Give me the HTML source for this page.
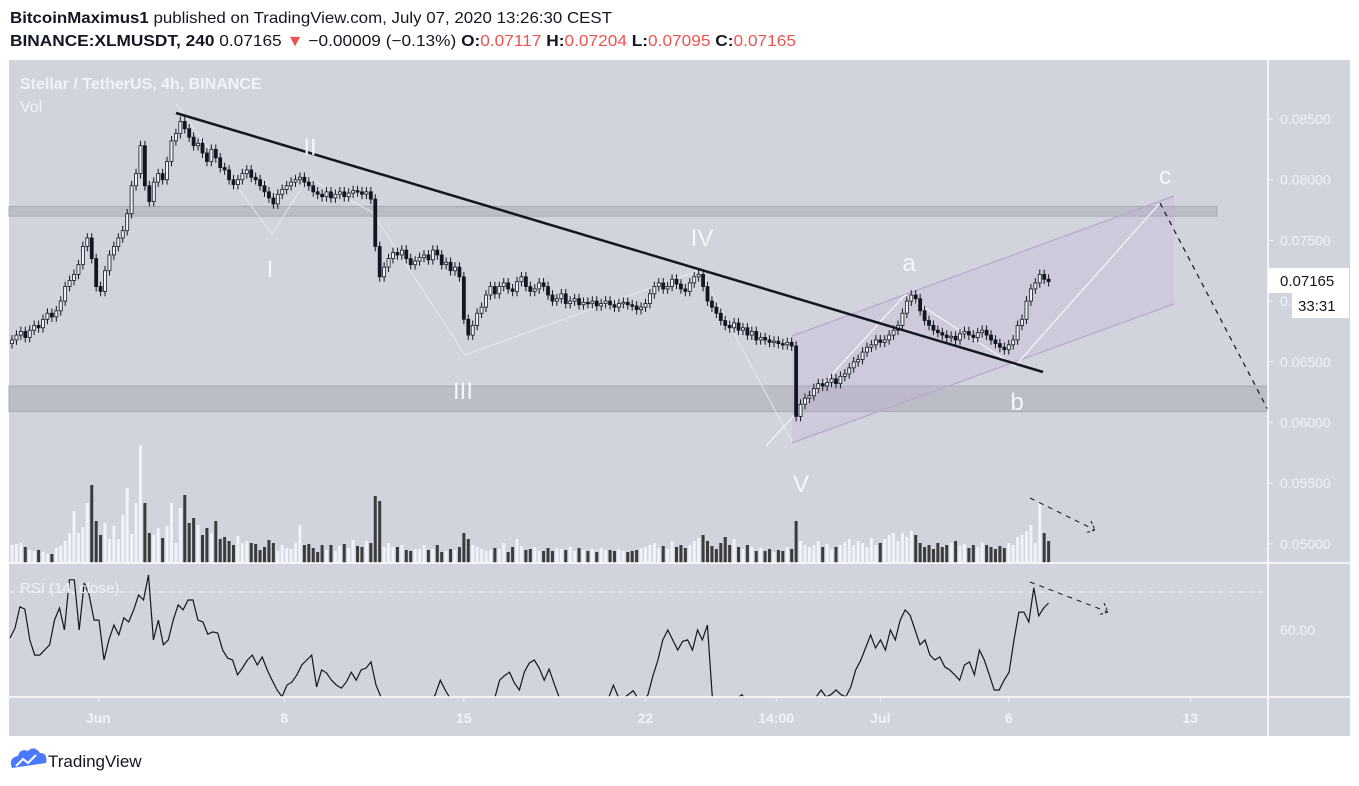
<!DOCTYPE html>
<html><head><meta charset="utf-8"><style>
html,body{margin:0;padding:0;background:#fff;}
svg{display:block;font-family:"Liberation Sans",sans-serif;}
</style></head><body>
<svg id="c" width="1359" height="786" viewBox="0 0 1359 786">
<text x="10" y="23" font-size="16" fill="#131722" textLength="602" lengthAdjust="spacingAndGlyphs"><tspan font-weight="bold">BitcoinMaximus1</tspan> published on TradingView.com, July 07, 2020 13:26:30 CEST</text>
<text x="10" y="46" font-size="16" fill="#131722" textLength="786" lengthAdjust="spacingAndGlyphs"><tspan font-weight="bold">BINANCE:XLMUSDT, 240</tspan> 0.07165 <tspan fill="#ef5350">▼</tspan> −0.00009 (−0.13%) <tspan font-weight="bold">O:</tspan><tspan fill="#ef5350">0.07117</tspan> <tspan font-weight="bold">H:</tspan><tspan fill="#ef5350">0.07204</tspan> <tspan font-weight="bold">L:</tspan><tspan fill="#ef5350">0.07095</tspan> <tspan font-weight="bold">C:</tspan><tspan fill="#ef5350">0.07165</tspan></text>
<rect x="9" y="60" width="1341" height="676" fill="#d1d4dc"/>
<g id="plot"></g>
<line x1="1268" y1="60" x2="1268" y2="736" stroke="#fff" stroke-width="1.5"/>
<line x1="9" y1="563" x2="1350" y2="563" stroke="#fff" stroke-width="1.5"/>
<line x1="9" y1="697" x2="1350" y2="697" stroke="#fff" stroke-width="1.5"/>
<text x="20" y="89" font-size="16" font-weight="bold" fill="#f0f3fa">Stellar / TetherUS, 4h, BINANCE</text>
<text x="20" y="112" font-size="16" fill="#f0f3fa">Vol</text>
<text x="20" y="593" font-size="15" fill="#f0f3fa">RSI (14, close)</text>
<g>
<path d="M12 768 q-4 -10 6 -12 q2 -8 10 -5 q6 -6 12 2 q8 0 6 10 z" fill="#2962ff" opacity="0.85"/>
<path d="M16 766 l7 -7 l5 4 l8 -8" stroke="#fff" stroke-width="2" fill="none"/>
<text x="48" y="767" font-size="17" fill="#131722">TradingView</text>
</g>
</svg>
<script>
// closes in units of 1e-4 USDT
const closes=[668,672,675,670,676,680,678,685,690,687,
692,700,712,717,722,730,745,752,735,712,
708,725,738,745,752,758,772,795,805,828,
795,782,798,805,800,815,832,838,848,842,
835,828,830,822,815,825,818,810,808,800,
796,800,805,808,802,800,795,790,785,780,
788,792,795,798,800,802,798,795,790,788,
786,790,785,788,790,786,789,791,790,788,
790,784,745,720,728,735,740,738,742,735,
730,733,736,738,734,742,738,730,732,725,
728,720,685,672,680,690,695,705,712,706,
712,715,710,708,716,720,712,708,710,715,
712,705,700,702,706,698,700,702,697,699,
698,700,696,698,700,697,695,698,699,697,
696,693,695,698,706,712,715,710,712,718,
714,710,708,715,720,722,712,700,695,690,
684,680,678,682,676,678,672,675,668,670,
668,666,667,665,664,666,663,605,615,620,
622,628,632,630,633,636,632,638,640,645,
650,652,658,662,664,668,666,668,672,676,
680,690,700,705,702,692,684,680,676,674,
672,670,671,668,673,675,672,670,674,676,
672,668,665,662,660,664,668,680,685,700,
710,715,722,718,716];
const volumes=[18,19,20,16,13,12,13,11,9,9,
15,17,22,30,52,30,36,60,78,42,
28,40,24,37,24,48,75,29,60,118,
60,30,28,35,25,37,60,20,55,68,
40,45,38,28,35,30,42,24,26,22,
18,27,20,22,20,19,13,16,23,20,
12,18,15,14,20,38,18,19,15,11,
18,13,18,12,17,19,15,23,17,16,
22,20,67,62,16,20,16,16,18,13,
12,14,14,18,13,14,18,11,12,14,
13,16,30,24,18,16,14,12,13,15,
14,20,11,16,24,17,13,14,16,12,
12,15,12,15,14,13,16,12,15,13,
12,14,11,15,13,13,12,14,12,11,
12,13,15,16,18,20,15,17,14,22,
16,18,15,18,22,25,28,22,17,14,
20,26,18,24,16,14,18,16,12,15,
12,14,11,13,12,16,14,42,22,18,
16,18,22,16,19,14,16,18,21,24,
18,22,20,16,25,18,20,24,28,30,
22,30,26,32,28,20,16,18,14,20,
16,18,20,22,17,19,15,18,16,20,
18,16,14,17,15,20,18,26,28,32,
38,20,60,30,22];
// RSI values sampled evenly across the candles
const rsiValues=[57.9,60.5,66.1,65.5,57.4,53.4,53.4,54.7,56.1,62.6,65.8,60,73.2,73.2,60,72.4,69.2,62.6,62.6,52.1,
57.4,61.3,58.7,63.2,62.1,65.3,69.2,67.9,74.5,57.4,62.6,56.1,57.4,62.6,66.6,65.3,67.9,67.9,62.6,62.1,
58.9,59.5,59.2,54.7,52.6,52.1,48.2,50,52.1,53.4,50.8,52.9,49.5,46.8,44.2,42.4,45.5,46.3,48.2,50.8,
52.1,53.4,45,49.5,48.7,46.8,45.5,44.7,46.3,48.9,46.8,49.5,50,51.6,45.5,42.4,
40,39,38,39,40,41,40,39,40,41,43,
46.8,44.2,42,41,41,42,42,38,39,40,41,42,46.8,48,48.9,46,44.2,49,51.3,52.1,50,46.8,49.7,46,42.4,
41,42,41,40,41,42,41,42,41,42,45.5,42.4,42,43,44,42,41,43,48,52.1,57.4,60,57.4,54.7,57,57.4,54.7,60,57.4,61.3,
42.4,40,42,41,40,42,43,41,42,40,42,41,42,41,40,41,42,40,41,42.4,42,42.4,44.2,42.4,43,44.2,43,42.4,45,49.5,
52,55.3,58.7,55.3,57.4,54.7,60,57.4,62.6,65.3,63.9,60,56.1,57.4,53.4,52.1,52.9,50.3,49.5,48.2,46.8,50.8,51.6,48.2,54.7,52.1,48.2,44.2,44.2,46.8,48.9,57.4,64.7,64.7,62.1,71.1,63.7,65.8,67.1];
const rsiStartIdx=-0.45;
const priceTicks=["0.08500","0.08000","0.07500","0.07000","0.06500","0.06000","0.05500","0.05000"];
const priceTickVals=[0.085,0.08,0.075,0.07,0.065,0.06,0.055,0.05];
const timeLabels=["Jun","8","15","22","14:00","Jul","6","13"];
const timeLabelIdx=[19.5,61.5,102,143,172.5,196,225,266];
const rsiTicks=[60];

const NS="http://www.w3.org/2000/svg";
const plot=document.getElementById('plot');
function X(i){return 12+i*4.43;}
function Y(p){return 119+(0.085-p)*12140;}
function RY(r){return 630-(r-60)*3.8;}
function VY(v){return 563-v;}
function mk(tag,attrs,parent){const e=document.createElementNS(NS,tag);for(const k in attrs)e.setAttribute(k,attrs[k]);(parent||plot).appendChild(e);return e;}

let z1=mk('rect',{x:9,y:Y(0.0778),width:1208,height:Y(0.0770)-Y(0.0778),fill:'#bcbec7',stroke:'#a9abb3'});


let z2=mk('rect',{x:9,y:Y(0.0630),width:1259,height:Y(0.0609)-Y(0.0630),fill:'#bcbec7',stroke:'#a9abb3'});



let ch=mk('polygon',{points:`792,336 1174,196 1174,304 792,443`,fill:'rgba(190,170,215,0.25)',stroke:'none'});


let ct=mk('line',{x1:792,y1:336,x2:1174,y2:196,stroke:'#b9a6cf','stroke-width':1.2});


let cb=mk('line',{x1:792,y1:443,x2:1174,y2:304,stroke:'#b9a6cf','stroke-width':1.2});



let w1=mk('polyline',{points:'176,104 272,234 308,178 372,212 465,355 700,270 792,442',fill:'none',stroke:'#eceef3','stroke-width':1,opacity:0.8});


let w2=mk('polyline',{points:'766,446 905,295 1015,366 1160,203',fill:'none',stroke:'#f6f7fa','stroke-width':1.2});


let w3=mk('line',{x1:1160,y1:203,x2:1268,y2:410,stroke:'#131722','stroke-width':1.2,'stroke-dasharray':'5 5'});



for(let i=0;i<volumes.length;i++){
  const o=i>0?closes[i-1]:closes[i];const up=closes[i]>=o;
  const b=mk('rect',{x:X(i)-1.5,y:VY(volumes[i]),width:3,height:volumes[i],fill:up?'#f0f3fa':'#3a3b3f'});
  
  
}

for(let i=0;i<closes.length;i++){
  const o=(i>0?closes[i-1]:closes[i]-3)/1e4, c=closes[i]/1e4;
  const hi=Math.max(o,c)+0.0004, lo=Math.min(o,c)-0.0004;
  const up=c>=o;
  const w=mk('line',{x1:X(i),x2:X(i),y1:Y(hi),y2:Y(lo),stroke:'#131722','stroke-width':1});
  
  
  const top=Y(Math.max(o,c)),h=Math.max(1.5,Y(Math.min(o,c))-top);
  const r=mk('rect',{x:X(i)-1.5,y:top,width:3,height:h,fill:up?'#f0f3fa':'#131722',stroke:'#131722','stroke-width':0.8});
  
  
}

let tl=mk('line',{x1:176,y1:113,x2:1043,y2:372,stroke:'#131722','stroke-width':2.5});



const wl=[["II",310,155],["I",270,277],["III",463,399],["IV",702,246],["V",801,492],["a",909,271],["b",1017,410],["c",1165,184]];
for(const [t,x,y] of wl){const e=mk('text',{x:x,y:y,'font-size':24,fill:'#f6f7fa','text-anchor':'middle'});e.textContent=t;

}

function arrow(x1,y1,x2,y2,name){
  const g=mk('g',{});
  
  
  mk('line',{x1,y1,x2,y2,stroke:'#131722','stroke-width':1,'stroke-dasharray':'5 5'},g);
  mk('polyline',{points:`${x2-4},${y2-9} ${x2},${y2} ${x2-10},${y2+3}`,fill:'none',stroke:'#131722','stroke-width':1,'stroke-dasharray':'3 2'},g);
}
arrow(1030,498,1095,530,'volume-down-arrow');
arrow(1030,582,1108,612,'rsi-down-arrow');

const clip=mk('clipPath',{id:'rc'});mk('rect',{x:9,y:564,width:1259,height:133},clip);
let rl=mk('line',{x1:9,y1:RY(70),x2:1268,y2:RY(70),stroke:'#f0f3fa','stroke-dasharray':'5 5'});


const rsiStepIdx=(closes.length-1-rsiStartIdx)/(rsiValues.length-1);
const pts=rsiValues.map((r,k)=>X(rsiStartIdx+k*rsiStepIdx).toFixed(1)+','+RY(r).toFixed(1));
let rp=mk('polyline',{points:pts.join(' '),fill:'none',stroke:'#131722','stroke-width':1.2,'clip-path':'url(#rc)'});



for(let k=0;k<priceTicks.length;k++){
  const y=Y(priceTickVals[k]);
  mk('line',{x1:1268,x2:1273,y1:y,y2:y,stroke:'#f0f3fa'});
  const t=mk('text',{x:1280,y:y+5,'font-size':14,fill:'#f0f3fa'});t.textContent=priceTicks[k];
  
  
}
for(const v of rsiTicks){const t=mk('text',{x:1280,y:RY(v)+5,'font-size':14,fill:'#f0f3fa'});t.textContent=v.toFixed(2);

}
for(let k=0;k<timeLabels.length;k++){
  const x=X(timeLabelIdx[k]);
  mk('line',{x1:x,x2:x,y1:697,y2:702,stroke:'#f0f3fa'});
  const t=mk('text',{x:x,y:723,'font-size':14,'font-weight':'bold',fill:'#f0f3fa','text-anchor':'middle'});t.textContent=timeLabels[k];
  
  
}
let pb=mk('rect',{x:1268,y:268,width:81,height:25,fill:'#fff'});


let pt=mk('text',{x:1280,y:286,'font-size':15,fill:'#131722'});pt.textContent='0.07165';


let cbx=mk('rect',{x:1292,y:293,width:57,height:25,fill:'#fff'});


let ctx=mk('text',{x:1298,y:311,'font-size':15,fill:'#131722'});ctx.textContent='33:31';


</script>
</body></html>
